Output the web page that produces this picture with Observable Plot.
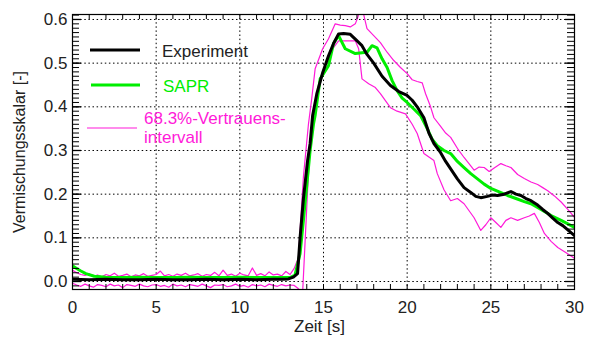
<!DOCTYPE html>
<html>
<head>
<meta charset="utf-8">
<script src="https://cdn.jsdelivr.net/npm/d3@7"></script>
<script src="https://cdn.jsdelivr.net/npm/@observablehq/plot@0.6"></script>
<style>
  html, body { margin: 0; padding: 0; background: white; }
</style>
</head>
<body>
<div id="chart"></div>
<script>
// ---- data ----
const xTicks = [0, 5, 10, 15, 20, 25, 30];
const yTicks = [0.0, 0.1, 0.2, 0.3, 0.4, 0.5, 0.6];
const xMinorTicks = d3.range(0, 31, 1);
const yMinorTicks = d3.range(-1, 62, 1).map(d => d / 100);

const legendLabels = ["Experiment", "SAPR", "68.3%-Vertrauens-", "intervall"];

// Experiment [t, value]
const experiment = [
  [0,0.005],[1,0.004],[2,0.005],[3,0.004],[4,0.004],[5,0.005],[6,0.004],[7,0.004],[8,0.005],[9,0.004],[10,0.005],[11,0.004],[12,0.005],
  [12.5,0.005],[12.9,0.006],[13.2,0.01],[13.45,0.018],[13.6,0.10],[13.8,0.19],[14.05,0.277],[14.2,0.316],[14.35,0.38],[14.6,0.43],
  [14.95,0.478],[15.3,0.517],[15.6,0.545],[15.9,0.567],[16.2,0.568],[16.6,0.566],[16.9,0.555],[17.3,0.54],[17.6,0.52],[18.0,0.50],
  [18.5,0.47],[19.0,0.449],[19.5,0.435],[20.0,0.426],[20.3,0.415],[20.6,0.40],[21.0,0.375],[21.3,0.34],[21.6,0.316],[22.0,0.295],
  [22.3,0.275],[22.6,0.258],[23.0,0.235],[23.4,0.215],[23.8,0.204],[24.1,0.195],[24.4,0.192],[24.8,0.195],[25.1,0.198],[25.4,0.197],
  [25.8,0.2],[26.2,0.206],[26.5,0.2],[26.8,0.197],[27.1,0.19],[27.4,0.185],[27.8,0.175],[28.1,0.165],[28.4,0.156],[28.7,0.145],
  [29.0,0.135],[29.3,0.128],[29.6,0.118],[30,0.105]
];

// SAPR [t, value]
const sapr = [
  [0,0.036],[0.25,0.03],[0.5,0.024],[0.8,0.018],[1.3,0.012],[2,0.01],[3,0.009],[4,0.01],[5,0.009],[6,0.009],[7,0.01],[8,0.009],
  [9,0.009],[10,0.01],[11,0.009],[12,0.009],[13,0.009],[13.3,0.015],[13.6,0.064],[13.8,0.14],[14.0,0.22],[14.2,0.30],[14.4,0.36],
  [14.5,0.38],[14.8,0.464],[15.3,0.494],[15.6,0.545],[15.9,0.563],[16.3,0.533],[16.9,0.522],[17.3,0.524],[17.6,0.525],[17.9,0.54],
  [18.2,0.535],[18.5,0.51],[18.8,0.49],[19.1,0.46],[19.4,0.437],[19.7,0.42],[20.0,0.41],[20.4,0.395],[20.8,0.38],[21.2,0.35],
  [21.5,0.325],[21.8,0.311],[22.2,0.3],[22.6,0.293],[23.0,0.275],[23.4,0.261],[23.8,0.247],[24.2,0.235],[24.6,0.223],[25.0,0.213],
  [25.5,0.205],[26.0,0.197],[26.5,0.19],[27.0,0.183],[27.4,0.178],[28.0,0.165],[28.6,0.151],[29.2,0.14],[29.6,0.132],[30,0.124]
];

// Upper bound of 68.3% interval [t, value]
const upperBound = [
  [0,0.026],[0.25,0.02],[0.5,0.016],[0.75,0.014],[1,0.018],[1.25,0.012],[1.5,0.015],[1.75,0.011],[2,0.016],[2.25,0.013],[2.5,0.019],
  [2.75,0.012],[3,0.014],[3.25,0.017],[3.5,0.011],[3.75,0.015],[4,0.013],[4.25,0.018],[4.5,0.012],[4.75,0.014],[5,0.016],[5.25,0.024],
  [5.5,0.013],[5.75,0.016],[6,0.012],[6.25,0.017],[6.5,0.014],[6.75,0.019],[7,0.013],[7.25,0.015],[7.5,0.018],[7.75,0.012],[8,0.016],
  [8.25,0.014],[8.5,0.021],[8.75,0.013],[9,0.026],[9.25,0.014],[9.5,0.017],[9.75,0.012],[10,0.019],[10.25,0.015],[10.5,0.013],
  [10.75,0.031],[11,0.014],[11.25,0.018],[11.5,0.013],[11.75,0.022],[12,0.015],[12.25,0.017],[12.5,0.013],[12.75,0.023],[13,0.016],
  [13.25,0.03],[13.5,0.055],[13.8,0.24],[14.1,0.36],[14.3,0.42],[14.5,0.487],[14.95,0.533],[15.3,0.556],[15.7,0.59],[16.0,0.587],
  [16.3,0.586],[16.6,0.583],[16.9,0.59],[17.05,0.605],[17.2,0.625],[17.35,0.62],[17.5,0.595],[17.6,0.579],[18.0,0.563],[18.4,0.547],
  [18.8,0.525],[19.2,0.506],[19.6,0.49],[20.0,0.476],[20.3,0.462],[20.6,0.458],[20.9,0.455],[21.1,0.43],[21.4,0.40],[21.6,0.375],
  [22.0,0.355],[22.3,0.34],[22.6,0.33],[23.0,0.305],[23.4,0.284],[23.8,0.265],[24.0,0.255],[24.3,0.262],[24.6,0.261],[24.9,0.252],
  [25.2,0.26],[25.6,0.27],[25.9,0.265],[26.2,0.261],[26.6,0.245],[27.0,0.236],[27.4,0.228],[27.8,0.222],[28.1,0.215],[28.4,0.208],
  [28.8,0.196],[29.2,0.182],[29.6,0.165],[30,0.147]
];

// Lower bound of 68.3% interval [t, value]
const lowerBound = [
  [0,-0.004],[0.25,-0.008],[0.5,-0.011],[0.75,-0.006],[1,-0.01],[1.25,-0.013],[1.5,-0.007],[1.75,-0.009],[2,-0.012],[2.25,-0.006],
  [2.5,-0.01],[2.75,-0.008],[3,-0.014],[3.25,-0.007],[3.5,-0.009],[3.75,-0.011],[4,-0.006],[4.25,-0.01],[4.5,-0.012],[4.75,-0.008],
  [5,-0.007],[5.25,-0.011],[5.5,-0.009],[5.75,-0.013],[6,-0.006],[6.25,-0.01],[6.5,-0.008],[6.75,-0.012],[7,-0.007],[7.25,-0.009],
  [7.5,-0.011],[7.75,-0.006],[8,-0.01],[8.25,-0.014],[8.5,-0.008],[8.75,-0.009],[9,-0.007],[9.25,-0.012],[9.5,-0.01],[9.75,-0.006],
  [10,-0.011],[10.25,-0.009],[10.5,-0.013],[10.75,-0.007],[11,-0.01],[11.25,-0.008],[11.5,-0.012],[11.75,-0.006],[12,-0.009],
  [12.25,-0.011],[12.5,-0.007],[12.75,-0.01],[13,-0.008],[13.25,-0.009],[13.45,-0.015],[13.6,-0.02],[13.68,-0.035],[13.76,-0.02],
  [14.05,0.21],[14.2,0.31],[14.5,0.39],[14.6,0.43],[15.1,0.494],[15.55,0.533],[15.9,0.551],[16.9,0.551],[17.1,0.533],[17.3,0.464],
  [17.7,0.453],[18.1,0.444],[18.4,0.43],[19.0,0.398],[19.4,0.39],[19.9,0.384],[20.3,0.36],[20.6,0.339],[21.0,0.293],[21.6,0.277],
  [21.8,0.247],[22.2,0.21],[22.6,0.185],[23.0,0.19],[23.4,0.178],[24.0,0.146],[24.4,0.117],[24.7,0.13],[25.0,0.146],[25.3,0.135],
  [25.6,0.124],[25.9,0.14],[26.2,0.146],[26.6,0.14],[27.0,0.146],[27.3,0.15],[27.6,0.156],[27.9,0.135],[28.2,0.11],[28.6,0.092],
  [29.0,0.078],[29.5,0.066],[30,0.053]
];

// ---- styling ----
const GREEN = "#00ee00";
const MAGENTA = "#ff1ad9";
const W = 591, H = 338;
const mL = 72, mR = 17, mT = 14, mB = 49;
const fw = W - mL - mR, fh = H - mT - mB;

const chart = Plot.plot({
  width: W,
  height: H,
  marginLeft: mL,
  marginRight: mR,
  marginTop: mT,
  marginBottom: mB,
  style: { fontFamily: "Liberation Sans, Arial, sans-serif", fontSize: "17px", color: "#222", background: "white", overflow: "visible" },
  x: { domain: [0, 30] },
  y: { domain: [-0.0183, 0.6114] },
  marks: [
    // dotted grid
    Plot.ruleX(xTicks.slice(1, -1), { stroke: "black", strokeWidth: 1, strokeDasharray: "1.5,2.6" }),
    Plot.ruleY(yTicks, { stroke: "black", strokeWidth: 1, strokeDasharray: "1.5,2.6" }),
    // data lines
    Plot.line(lowerBound, { x: d => d[0], y: d => d[1], stroke: MAGENTA, strokeWidth: 1.2, clip: true }),
    Plot.line(upperBound, { x: d => d[0], y: d => d[1], stroke: MAGENTA, strokeWidth: 1.2, clip: true }),
    Plot.line(sapr, { x: d => d[0], y: d => d[1], stroke: GREEN, strokeWidth: 3, clip: true }),
    Plot.line(experiment, { x: d => d[0], y: d => d[1], stroke: "black", strokeWidth: 3, clip: true }),
    // inward minor ticks: bottom & top
    Plot.ruleX(xMinorTicks, { stroke: "black", strokeWidth: 1, insetTop: fh - 5 }),
    Plot.ruleX(xMinorTicks, { stroke: "black", strokeWidth: 1, insetBottom: fh - 5 }),
    // inward minor ticks: left & right
    Plot.ruleY(yMinorTicks, { stroke: "black", strokeWidth: 1, insetRight: fw - 7 }),
    Plot.ruleY(yMinorTicks, { stroke: "black", strokeWidth: 1, insetLeft: fw - 7 }),
    // major ticks slightly longer
    Plot.ruleY(yTicks, { stroke: "black", strokeWidth: 1.3, insetRight: fw - 9 }),
    Plot.ruleY(yTicks, { stroke: "black", strokeWidth: 1.3, insetLeft: fw - 9 }),
    Plot.frame({ stroke: "black", strokeWidth: 1.2 }),
    // axes
    Plot.axisX(xTicks, { tickSize: 0, tickPadding: 11, label: null, fontSize: 17 }),
    Plot.axisY(yTicks, { tickSize: 0, tickPadding: 5, label: null, tickFormat: d3.format(".1f"), fontSize: 17 }),
    // axis titles
    Plot.text(["Zeit [s]"], { frameAnchor: "bottom", text: d => d, textAnchor: "middle", dx: -4, dy: 42, fontSize: 17, fill: "#222" }),
    Plot.text(["Vermischungsskalar [-]"], { frameAnchor: "left", text: d => d, textAnchor: "middle", dx: -53, dy: 0, rotate: -90, fontSize: 16, fill: "#222" })
  ]
});

// ---- legend inside the plot area ----
const svg = d3.select(chart);
const lg = svg.append("g")
  .attr("font-family", "Liberation Sans, Arial, sans-serif")
  .attr("font-size", 17)
  .attr("text-anchor", "start");
const entries = [
  { color: "black", width: 3, x1: 90, x2: 140, y: 50, texts: [{ t: legendLabels[0], x: 162, y: 51 }], fill: "#222" },
  { color: GREEN, width: 3, x1: 91, x2: 140, y: 85, texts: [{ t: legendLabels[1], x: 163, y: 86 }], fill: GREEN },
  { color: MAGENTA, width: 1.2, x1: 87, x2: 137, y: 128, texts: [{ t: legendLabels[2], x: 144, y: 118 }, { t: legendLabels[3], x: 144, y: 137 }], fill: MAGENTA }
];
for (const e of entries) {
  lg.append("line").attr("x1", e.x1).attr("x2", e.x2).attr("y1", e.y).attr("y2", e.y)
    .attr("stroke", e.color).attr("stroke-width", e.width);
  for (const tx of e.texts) {
    lg.append("text").attr("x", tx.x).attr("y", tx.y).attr("dy", "0.35em")
      .attr("text-anchor", "start").attr("fill", e.fill).text(tx.t);
  }
}

document.getElementById("chart").appendChild(chart);
</script>
</body>
</html>
